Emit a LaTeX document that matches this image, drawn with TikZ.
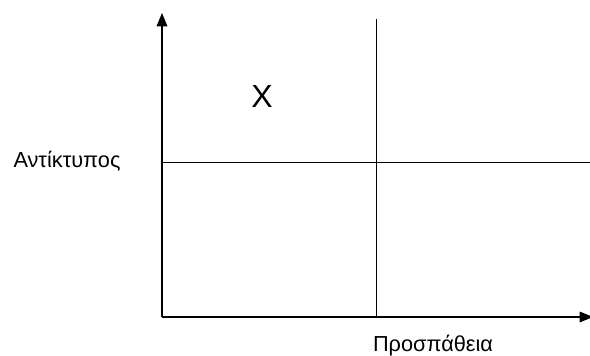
\documentclass[tikz,border=0pt]{standalone}
\usepackage{fontspec}
\setmainfont{Liberation Sans}
\usetikzlibrary{arrows.meta}

\begin{document}
\begin{tikzpicture}[x=0.75pt,y=-0.75pt]
        \useasboundingbox (0,0) rectangle (590,356);
        \coordinate (o) at (162,317);
        \coordinate (ytop) at (162,13);
        \coordinate (xend) at (593,317);
        \coordinate (vtop) at (376,19);
        \coordinate (vbot) at (376,317);
        \coordinate (hl) at (162,162);
        \coordinate (hr) at (590,162);
        \draw[thick,-{Triangle[length=10pt,width=8pt]}] (o) -- (ytop);
        \draw[thick,-{Triangle[length=10pt,width=8pt]}] (o) -- (xend);
        \draw (vtop) -- (vbot);
        \draw (hl) -- (hr);
        \node[font=\fontsize{24}{28}\selectfont] (mark) at (262,96) {X};
        \node[font=\fontsize{16.3}{19}\selectfont] (impact) at (67,161) {Αντίκτυπος};
        \node[font=\fontsize{16.3}{19}\selectfont] (effort) at (433,346) {Προσπάθεια};
      \end{tikzpicture}
\end{document}
